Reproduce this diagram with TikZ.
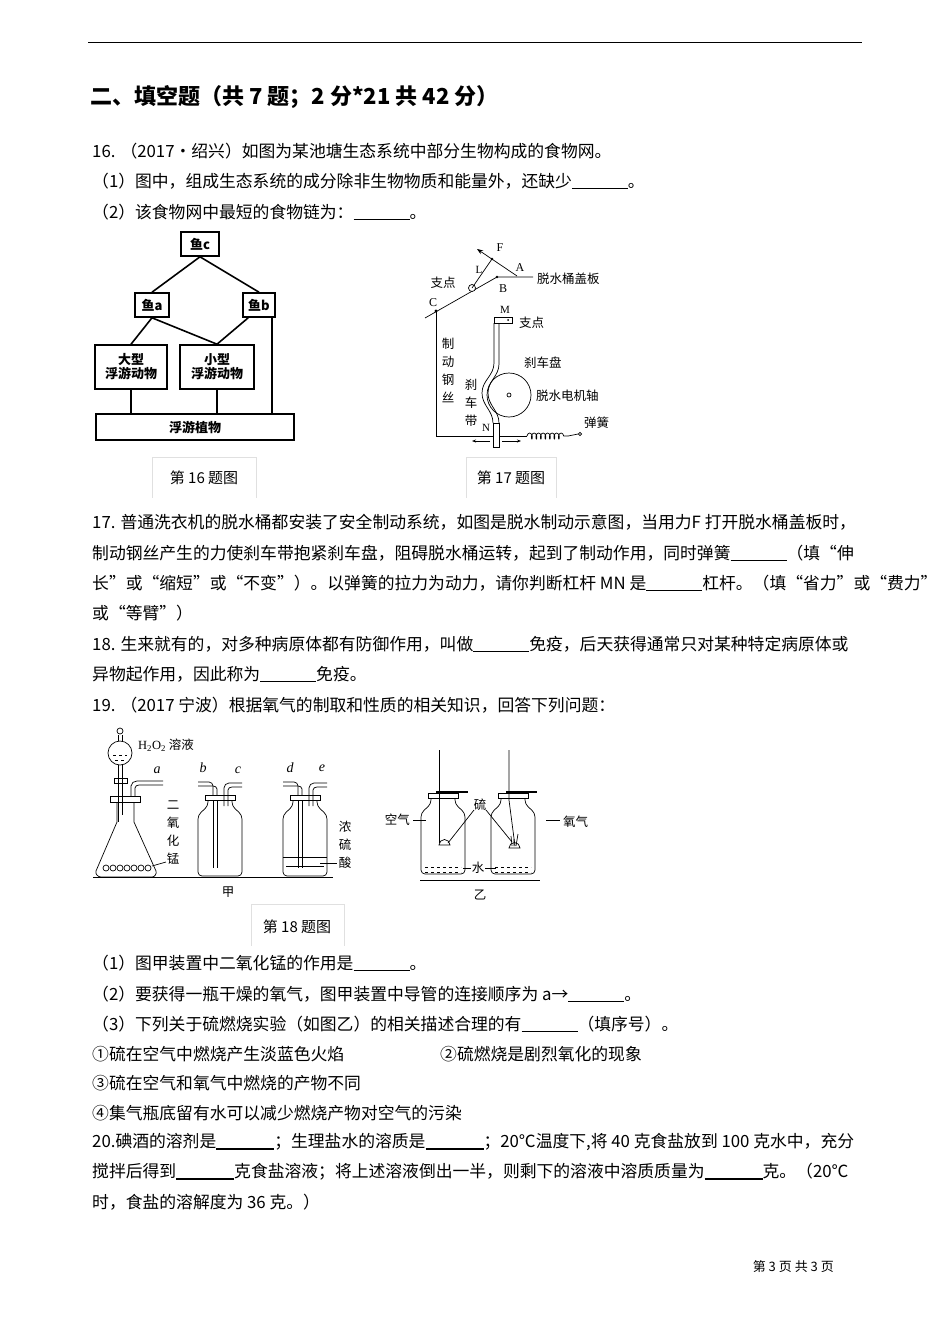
\documentclass[tikz,border=0pt]{standalone}
\usepackage{fontspec}
\setmainfont{Noto Sans CJK SC}
\newfontfamily\serifit{Liberation Serif}
\usetikzlibrary{arrows.meta,decorations.pathmorphing}
\newcommand{\bodyf}{\fontsize{16.8}{18}\selectfont}
\newcommand{\smf}{\fontsize{12.5}{18}\selectfont}
\newcommand{\bl}{\underline{\hspace{56pt}}}
\newcommand{\bbl}{\rule[-2pt]{58pt}{1.4pt}}
\begin{document}
\begin{tikzpicture}[x=1pt,y=-1pt,
  tx/.style={anchor=west,inner sep=0,font=\bodyf},
  fw/.style={draw,line width=1.6pt,inner sep=2pt,font=\bfseries\fontsize{13}{14}\selectfont,align=center},
  lk/.style={line width=1.6pt},
  ln/.style={line width=0.7pt},
  lab/.style={inner sep=0,font=\smf,align=center},
  capbox/.style={draw=black!12,line width=0.6pt},
  bottle/.pic={
    \draw[ln,rounded corners=4] (-12,0)--(-12,6)--(-22,15)--(-22,76)--(22,76)--(22,15)--(12,6)--(12,0);
    \draw[ln] (-15,-5) rectangle (15,0);
  }]
\useasboundingbox (0,0) rectangle (950,1344);
\draw[line width=1pt] (88,42)--(862,42);
\node[tx,font=\bfseries\fontsize{22}{24}\selectfont] at (90,97) {二、填空题（共 7 题；2 分*21 共 42 分）};
\node[tx] at (92,151) {16. （2017•绍兴）如图为某池塘生态系统中部分生物构成的食物网。};
\node[tx] at (92,181) {（1）图中，组成生态系统的成分除非生物物质和能量外，还缺少\bl。};
\node[tx] at (92,212) {（2）该食物网中最短的食物链为：\bl。};
% food web
\node[fw,minimum width=38pt,minimum height=24pt] (c) at (200,244) {鱼c};
\node[fw,minimum width=34pt,minimum height=24pt] (a) at (152,305) {鱼a};
\node[fw,minimum width=32pt,minimum height=24pt] (b) at (259,305) {鱼b};
\node[fw,minimum width=72pt,minimum height=44pt] (big) at (131,367) {大型\\浮游动物};
\node[fw,minimum width=74pt,minimum height=44pt] (small) at (217,367) {小型\\浮游动物};
\node[fw,minimum width=198pt,minimum height=26pt] (pl) at (195,427) {浮游植物};
\draw[lk] (c.south) -- (a.north);
\draw[lk] (c.south) -- (b.north);
\draw[lk] (a.south) -- (big.north);
\draw[lk] (a.south) -- (small.north);
\draw[lk] (b.south west) ++(6,0) coordinate (bs) -- (small.north);
\draw[lk] (big.south) -- (big.south |- pl.north);
\draw[lk] (small.south) -- (small.south |- pl.north);
\draw[lk] (b.south east) ++(-4,0) coordinate (be) -- (be |- pl.north);
% captions
\draw[capbox] (152,498)--(152,457)--(256,457)--(256,498);
\node[inner sep=0,font=\fontsize{15}{16}\selectfont] (cap16) at (204,478) {第 16 题图};
\draw[capbox] (466,498)--(466,457)--(556,457)--(556,498);
\node[inner sep=0,font=\fontsize{15}{16}\selectfont] (cap17) at (511,478) {第 17 题图};
% lever diagram
\draw[ln] (425,318)--(497,277)--(533,277);
\node[lab,anchor=west] (lid) at (537,279) {脱水桶盖板};
\draw[ln,fill=white] (472,288) circle (3.5);
\draw[ln,-{Stealth[length=6pt]}] (517,276)--(477,249);
\draw[ln] (472,288)--(492,259);
\fill (492,259) circle (1.4) (497,277) circle (1.4) (436,311) circle (1.6);
\node[lab] at (500,248) {\serifit\fontsize{12}{12}\selectfont F};
\node[lab] at (520,268) {\serifit\fontsize{12}{12}\selectfont A};
\node[lab] at (479,270) {\serifit\fontsize{11}{12}\selectfont L};
\node[lab] at (503,289) {\serifit\fontsize{12}{12}\selectfont B};
\node[lab] at (433,303) {\serifit\fontsize{12}{12}\selectfont C};
\node[lab] at (443,283) {支点};
\draw[ln] (436,311)--(436,436)--(493,436);
\node[lab] at (448,370) {制\\动\\钢\\丝};
% brake band
\draw[ln] (494,323)--(494,363) to[out=-90,in=90] (482,393) to[out=-90,in=90] (493,423);
\draw[ln] (499,323)--(499,364) to[out=-90,in=90] (488,393) to[out=-90,in=90] (499,423);
\draw[ln] (494,317) rectangle (512,323);
\fill (508,320) circle (1);
\node[lab] at (505,310) {\serifit\fontsize{11}{12}\selectfont M};
\node[lab,anchor=west] at (519,323) {支点};
\draw[ln] (493,423) rectangle (499,447);
\node[lab] at (486,428) {\serifit\fontsize{11}{12}\selectfont N};
\draw[ln] (509,395) circle (22);
\draw[ln] (509,395) circle (2);
\node[lab] at (471,403) {刹\\车\\带};
\node[lab,anchor=west] at (524,363) {刹车盘};
\node[lab,anchor=west] at (536,396) {脱水电机轴};
\node[lab,anchor=west] at (584,423) {弹簧};
\draw[ln,-{Stealth[length=4pt]}] (490,441)--(472,441);
\draw[ln,-{Stealth[length=4pt]}] (502,441)--(521,441);
\draw[ln] (499,436)--(527,436);
\draw[ln,decorate,decoration={coil,aspect=0.5,segment length=4.5pt,amplitude=3pt}] (527,436)--(568,436);
\draw[ln] (568,436)--(578,434);
\draw[ln] (580,434) circle (1.6);
% 17
\node[tx] at (92,522) {17. 普通洗衣机的脱水桶都安装了安全制动系统，如图是脱水制动示意图，当用力F 打开脱水桶盖板时，};
\node[tx] at (92,553) {制动钢丝产生的力使刹车带抱紧刹车盘，阻碍脱水桶运转，起到了制动作用，同时弹簧\bl（填“伸};
\node[tx] at (92,583) {长”或“缩短”或“不变”）。以弹簧的拉力为动力，请你判断杠杆 MN 是\bl 杠杆。（填“省力”或“费力”};
\node[tx] at (92,613) {或“等臂”）};
\node[tx] at (92,644) {18. 生来就有的，对多种病原体都有防御作用，叫做\bl 免疫，后天获得通常只对某种特定病原体或};
\node[tx] at (92,674) {异物起作用，因此称为\bl 免疫。};
\node[tx] at (92,705) {19. （2017 宁波）根据氧气的制取和性质的相关知识，回答下列问题：};
% ---- jia apparatus
\draw[ln] (93,877)--(333,877);
\node[lab] at (228,892) {甲};
\draw[ln] (117,802)--(117,822)--(96,871) to[out=-110,in=180] (101,877) -- (152,877) to[out=0,in=-70] (156,871) -- (134,822)--(134,802);
\draw[ln] (110,796) rectangle (140,802);
\draw[ln] (131,796)--(131,786) to[out=90,in=180] (137,781)--(163,781);
\draw[ln] (135,796)--(135,788) to[out=90,in=180] (139,785)--(163,785);
\draw[ln] (118,765)--(118,822) (122,765)--(122,815);
\draw[ln] (114,778) rectangle (127,783);
\draw[ln] (120,753) circle (12);
\draw[ln,dashed] (113,755)--(127,755) (115,760)--(125,760);
\draw[ln] (118,741)--(118,735) (122,741)--(122,735);
\draw[ln] (120,731) circle (3);
\foreach \xx in {106,113,120,127,134,141,148} \draw[ln] (\xx,868) circle (3);
\node[lab,anchor=west] at (138,745) {{\serifit H\textsubscript{2}O\textsubscript{2}} 溶液};
\node[lab] at (157,770) {\serifit\itshape\fontsize{14}{14}\selectfont a};
\node[lab] at (173,833) {二\\氧\\化\\锰};
\draw[ln] (152,866)--(166,862);
% b c bottle
\pic at (220,800) {bottle};
\draw[ln] (213,795)--(213,786) to[out=90,in=0] (209,782)--(198,782);
\draw[ln] (217,795)--(217,789) to[out=90,in=0] (213,786)--(198,786);
\draw[ln] (213,800)--(213,868) (217,800)--(217,868);
\draw[ln] (224,806)--(224,788) to[out=90,in=180] (229,783)--(242,783);
\draw[ln] (228,806)--(228,790) to[out=90,in=180] (232,787)--(242,787);
\node[lab] at (203,768) {\serifit\itshape\fontsize{14}{14}\selectfont b};
\node[lab] at (238,770) {\serifit\itshape\fontsize{14}{14}\selectfont c};
% d e bottle
\pic at (305,800) {bottle};
\draw[ln] (298,795)--(298,786) to[out=90,in=0] (294,782)--(283,782);
\draw[ln] (302,795)--(302,789) to[out=90,in=0] (298,786)--(283,786);
\draw[ln] (298,800)--(298,868) (302,800)--(302,868);
\draw[ln] (309,806)--(309,788) to[out=90,in=180] (314,783)--(327,783);
\draw[ln] (313,806)--(313,790) to[out=90,in=180] (317,787)--(327,787);
\draw[ln] (283,857)--(327,857);
\draw[ln] (286,866)--(324,866);
\node[lab] at (290,768) {\serifit\itshape\fontsize{14}{14}\selectfont d};
\node[lab] at (322,768) {\serifit\itshape\fontsize{14}{14}\selectfont e};
\node[lab] at (345,845) {浓\\硫\\酸};
\draw[ln] (320,863)--(337,863);
% ---- yi apparatus
\draw[ln] (420,880)--(540,880);
\node[lab] at (480,895) {乙};
\pic at (443,798) {bottle};
\pic at (513,798) {bottle};
\draw[line width=1.4pt] (436,792)--(468,792) (506,792)--(537,792);
\draw[ln] (439,750)--(439,843);
\draw[ln] (509,750)--(509,800)--(515,846);
\draw[ln] (439,845) arc (180:360:5.5) -- cycle;
\draw[ln] (509,848) arc (180:360:5.5) -- cycle;
\draw[ln] (512,846) to[out=100,in=-80] (511,836) (516,846) to[out=80,in=-100] (518,834) (514,846)--(514,839);
\draw[ln,dashed] (425,867)--(461,867) (425,872)--(461,872);
\draw[ln,dashed] (495,867)--(531,867) (495,872)--(531,872);
\node[lab,anchor=east] at (410,820) {空气};
\draw[ln] (413,820)--(426,820);
\node[lab] at (480,805) {硫};
\draw[ln] (474,810)--(448,843) (486,810)--(512,842);
\node[lab,anchor=west] at (563,822) {氧气};
\draw[ln] (546,820)--(560,820);
\node[lab] at (478,868) {水};
\draw[ln] (463,868)--(471,868) (485,868)--(496,868);
% caption 18
\draw[capbox] (251,946)--(251,904)--(344,904)--(344,946);
\node[inner sep=0,font=\fontsize{15}{16}\selectfont] (cap18) at (297,927) {第 18 题图};
\node[tx] at (92,963) {（1）图甲装置中二氧化锰的作用是\bl。};
\node[tx] at (92,994) {（2）要获得一瓶干燥的氧气，图甲装置中导管的连接顺序为 a→\bl。};
\node[tx] at (92,1024) {（3）下列关于硫燃烧实验（如图乙）的相关描述合理的有\bl（填序号）。};
\node[tx] at (92,1054) {①硫在空气中燃烧产生淡蓝色火焰};
\node[tx] at (440,1054) {②硫燃烧是剧烈氧化的现象};
\node[tx] at (92,1083) {③硫在空气和氧气中燃烧的产物不同};
\node[tx] at (92,1113) {④集气瓶底留有水可以减少燃烧产物对空气的污染};
\node[tx] at (92,1142) {20.碘酒的溶剂是\bbl；生理盐水的溶质是\bbl；20℃温度下,将 40 克食盐放到 100 克水中，充分};
\node[tx] at (92,1172) {搅拌后得到\bbl 克食盐溶液；将上述溶液倒出一半，则剩下的溶液中溶质质量为\bbl 克。（20℃};
\node[tx] at (92,1202) {时，食盐的溶解度为 36 克。）};
\node[inner sep=0,anchor=east,font=\fontsize{13}{14}\selectfont] at (834,1267) {第 3 页 共 3 页};
\end{tikzpicture}
\end{document}
